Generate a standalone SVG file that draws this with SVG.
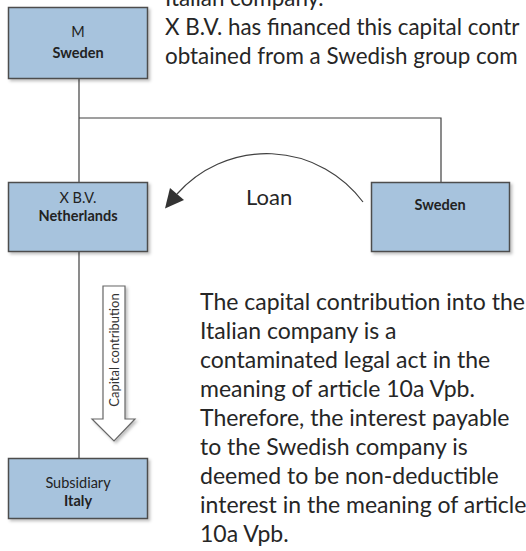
<svg xmlns="http://www.w3.org/2000/svg" width="526" height="551" viewBox="0 0 526 551">
<defs>
<filter id="sh" x="-10%" y="-10%" width="130%" height="130%">
<feDropShadow dx="2" dy="2" stdDeviation="1.5" flood-color="#000" flood-opacity="0.25"/>
</filter>
</defs>
<style>
.box{fill:#a7c3dd;stroke:#4d4d4d;stroke-width:1.5;filter:url(#sh)}
.lbl{font-family:Lato,"Liberation Sans",sans-serif;font-size:14.5px;fill:#222;text-anchor:middle}
.b{font-weight:bold}
.txt{font-family:Lato,"Liberation Sans",sans-serif;font-size:23px;fill:#262626}
.top{font-size:22.4px}
.ln{fill:none;stroke:#404040;stroke-width:1.2}
</style>
<rect width="526" height="551" fill="#fff"/>
<g id="top-text">
<text class="txt top" x="165" y="6">Italian company.</text>
<text class="txt top" x="165" y="35">X B.V. has financed this capital contr</text>
<text class="txt top" x="165" y="64">obtained from a Swedish group com</text>
</g>
<g id="connectors">
<path class="ln" d="M79,78 V182 M79,118 H441 V182 M79,251 V458"/>
<path class="ln" d="M363,202 A120,120 0 0 0 177,194"/>
<polygon points="165,208.5 170,188 184,200" fill="#333"/>
<text class="txt" x="246" y="205" style="font-size:22px">Loan</text>
</g>
<g id="capital-arrow">
<path d="M103,286 H125 V419 H135 L114,441 L92,419 H103 Z" fill="#fff" stroke="#666" stroke-width="1.2" filter="url(#sh)"/>
<text class="lbl" transform="translate(118.5,350) rotate(-90)" style="font-size:13px;fill:#333">Capital contribution</text>
</g>
<g id="m-sweden">
<rect class="box" x="8.5" y="7.5" width="139" height="71"/>
<text class="lbl" x="78" y="37">M</text>
<text class="lbl b" x="78" y="58">Sweden</text>
</g>
<g id="xbv-netherlands">
<rect class="box" x="8.5" y="182.5" width="139" height="69"/>
<text class="lbl" x="78" y="203">X B.V.</text>
<text class="lbl b" x="78" y="221">Netherlands</text>
</g>
<g id="sweden">
<rect class="box" x="371.5" y="182.5" width="138" height="69"/>
<text class="lbl b" x="440" y="210">Sweden</text>
</g>
<g id="subsidiary-italy">
<rect class="box" x="8.5" y="458.5" width="139" height="60"/>
<text class="lbl" x="78" y="488">Subsidiary</text>
<text class="lbl b" x="78" y="506">Italy</text>
</g>
<g id="note">
<text class="txt" x="200" y="310">The capital contribution into the</text>
<text class="txt" x="200" y="339">Italian company is a</text>
<text class="txt" x="200" y="368">contaminated legal act in the</text>
<text class="txt" x="200" y="397">meaning of article 10a Vpb.</text>
<text class="txt" x="200" y="426">Therefore, the interest payable</text>
<text class="txt" x="200" y="455">to the Swedish company is</text>
<text class="txt" x="200" y="484">deemed to be non-deductible</text>
<text class="txt" x="200" y="513">interest in the meaning of article</text>
<text class="txt" x="200" y="542">10a Vpb.</text>
</g>
</svg>
